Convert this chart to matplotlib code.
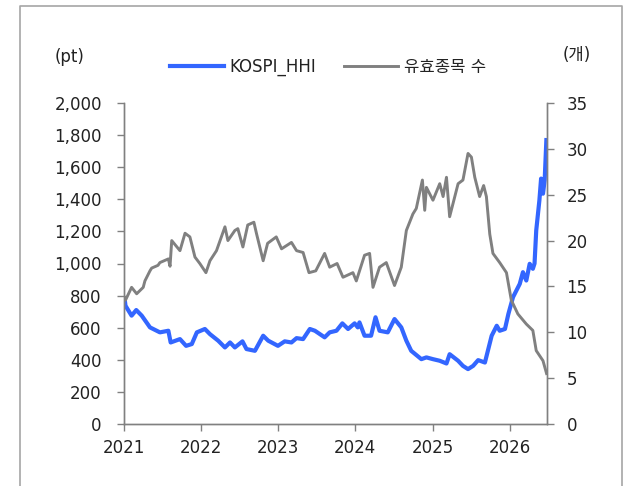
import pandas as pd
import matplotlib.pyplot as plt
from matplotlib.lines import Line2D
from matplotlib.ticker import FuncFormatter

plt.rcParams['font.family'] = ['DejaVu Sans', 'Noto Sans CJK KR']

# KOSPI_HHI (pt)
hhi_dates = [
    '2021-01-04', '2021-01-08', '2021-02-06', '2021-02-28', '2021-03-26', '2021-05-04',
    '2021-06-20', '2021-07-30', '2021-08-10', '2021-09-23', '2021-10-22', '2021-11-18',
    '2021-12-12', '2022-01-19', '2022-02-12', '2022-03-23', '2022-04-24', '2022-05-18',
    '2022-06-10', '2022-07-16', '2022-08-04', '2022-09-13', '2022-10-22', '2022-11-15',
    '2022-12-31', '2023-02-01', '2023-03-05', '2023-03-29', '2023-04-29', '2023-05-31',
    '2023-06-24', '2023-08-09', '2023-09-02', '2023-10-04', '2023-11-01', '2023-11-28',
    '2023-12-29', '2024-01-13', '2024-01-21', '2024-02-14', '2024-03-16', '2024-04-06',
    '2024-04-25', '2024-06-03', '2024-07-05', '2024-08-06', '2024-08-30', '2024-09-22',
    '2024-11-09', '2024-12-03', '2025-01-03', '2025-02-04', '2025-03-08', '2025-03-23',
    '2025-05-02', '2025-05-25', '2025-06-18', '2025-07-12', '2025-08-05', '2025-09-06',
    '2025-10-08', '2025-11-01', '2025-11-15', '2025-12-10', '2025-12-26', '2026-01-17',
    '2026-02-18', '2026-03-05', '2026-03-21', '2026-04-06', '2026-04-21', '2026-04-29',
    '2026-05-07', '2026-05-22', '2026-05-30', '2026-06-08', '2026-06-16', '2026-06-24',
]
hhi_values = [
    780, 737, 675, 710, 675, 602,
    571, 581, 508, 529, 487, 498,
    571, 592, 560, 519, 477, 508,
    477, 515, 467, 456, 550, 519,
    487, 515, 508, 535, 529, 592,
    581, 540, 571, 581, 627, 592,
    627, 602, 633, 550, 550, 665,
    581, 571, 654, 602, 519, 456,
    404, 415, 404, 394, 377, 435,
    394, 362, 342, 362, 398, 383,
    550, 612, 581, 592, 685, 790,
    873, 946, 894, 998, 967, 1000,
    1206, 1394, 1529, 1435, 1520, 1769,
]

# 유효종목 수 (개)
cnt_dates = [
    '2021-01-04', '2021-01-08', '2021-02-06', '2021-03-02', '2021-04-02', '2021-04-10',
    '2021-05-04', '2021-05-12', '2021-06-11', '2021-06-20', '2021-07-30', '2021-08-07',
    '2021-08-15', '2021-09-23', '2021-10-17', '2021-11-09', '2021-12-03', '2021-12-26',
    '2022-01-24', '2022-02-12', '2022-03-15', '2022-04-24', '2022-05-08', '2022-06-10',
    '2022-06-24', '2022-07-18', '2022-08-10', '2022-09-08', '2022-09-20', '2022-10-22',
    '2022-11-12', '2022-12-23', '2023-01-17', '2023-03-05', '2023-03-29', '2023-04-29',
    '2023-05-27', '2023-06-28', '2023-08-09', '2023-09-02', '2023-10-07', '2023-11-04',
    '2023-12-21', '2024-01-06', '2024-02-14', '2024-03-09', '2024-03-25', '2024-04-25',
    '2024-05-27', '2024-07-05', '2024-08-06', '2024-08-30', '2024-09-30', '2024-10-16',
    '2024-11-14', '2024-11-25', '2024-12-03', '2025-01-03', '2025-02-04', '2025-02-20',
    '2025-03-08', '2025-03-23', '2025-05-02', '2025-05-25', '2025-06-18', '2025-07-04',
    '2025-07-20', '2025-08-12', '2025-08-31', '2025-09-13', '2025-09-29', '2025-10-14',
    '2025-11-15', '2025-12-17', '2026-01-09', '2026-02-09', '2026-03-21', '2026-04-21',
    '2026-05-07', '2026-06-08', '2026-06-25',
]
cnt_values = [
    13.8, 13.5, 14.9, 14.2, 14.9, 15.6,
    16.7, 17.0, 17.3, 17.6, 18.0, 17.2,
    20.0, 18.9, 20.8, 20.4, 18.2, 17.5,
    16.5, 17.8, 18.9, 21.5, 20.0, 21.1,
    21.3, 19.3, 21.7, 22.0, 20.8, 17.8,
    19.7, 20.4, 19.1, 19.8, 18.9, 18.7,
    16.5, 16.7, 18.6, 17.1, 17.5, 16.0,
    16.5, 15.6, 18.4, 18.6, 14.9, 17.1,
    17.6, 15.1, 17.1, 21.1, 22.9, 23.5,
    26.6, 23.3, 25.8, 24.4, 26.2, 24.8,
    26.9, 22.6, 26.2, 26.6, 29.5, 29.1,
    26.9, 24.8, 26.0, 24.8, 20.7, 18.6,
    17.6, 16.5, 13.5, 12.0, 10.9, 10.2,
    8.0, 6.9, 5.5,
]

years = ['2021', '2022', '2023', '2024', '2025', '2026']

fig = plt.figure(figsize=(6.31, 4.86), dpi=100)
ax = fig.add_axes([124 / 631, 1 - 424 / 486, 423 / 631, 321 / 486])
ax2 = ax.twinx()

blue = '#3366ff'
grey = '#808080'
spine_c = '#808080'

l1, = ax.plot(pd.to_datetime(hhi_dates), hhi_values, color=blue, lw=3.0, label='KOSPI_HHI')
l2, = ax2.plot(pd.to_datetime(cnt_dates), cnt_values, color=grey, lw=2.1, label='유효종목 수')

ax.set_xlim(pd.Timestamp('2021-01-01'), pd.Timestamp('2026-06-27'))
ax.set_ylim(0, 2000)
ax2.set_ylim(0, 35)
ax.set_yticks(range(0, 2001, 200))
ax2.set_yticks(range(0, 36, 5))
ax.yaxis.set_major_formatter(FuncFormatter(lambda v, p: f'{int(v):,}'))
ax.set_xticks(pd.to_datetime([y + '-01-01' for y in years]))
ax.set_xticklabels(years)

for a in (ax, ax2):
    a.spines['top'].set_visible(False)
    for s in ('left', 'right', 'bottom'):
        a.spines[s].set_color(spine_c)
        a.spines[s].set_linewidth(1.0)
    a.patch.set_visible(False)

ax.tick_params(axis='y', direction='out', length=5, width=1, color=spine_c,
               labelsize=12, labelcolor='#222222', pad=11)
ax2.tick_params(axis='y', direction='out', length=5, width=1, color=spine_c,
                labelsize=12, labelcolor='#222222', pad=9)
ax.tick_params(axis='x', direction='out', length=5, width=1, color=spine_c,
               labelsize=12, labelcolor='#222222', pad=6)

fig.text(70 / 631, 1 - 57 / 486, '(pt)', ha='center', va='center', fontsize=12, color='#222222')
fig.text(577 / 631, 1 - 55 / 486, '(개)', ha='center', va='center', fontsize=12, color='#222222')

fig.legend(handles=[l1, l2], loc='center', bbox_to_anchor=(328 / 631, 1 - 67 / 486),
           ncol=2, frameon=False, fontsize=12, handlelength=3.2, handletextpad=0.35,
           columnspacing=1.7, labelcolor='#222222')

# outer frame (open at the bottom)
fc = '#a6a6a6'
x0, x1, yt = 20 / 631, 622 / 631, 1 - 6 / 486
fig.add_artist(Line2D([x0, x0, x1, x1], [0, yt, yt, 0], transform=fig.transFigure,
                      color=fc, lw=1.2))

fig.savefig('out.png', dpi=100)
